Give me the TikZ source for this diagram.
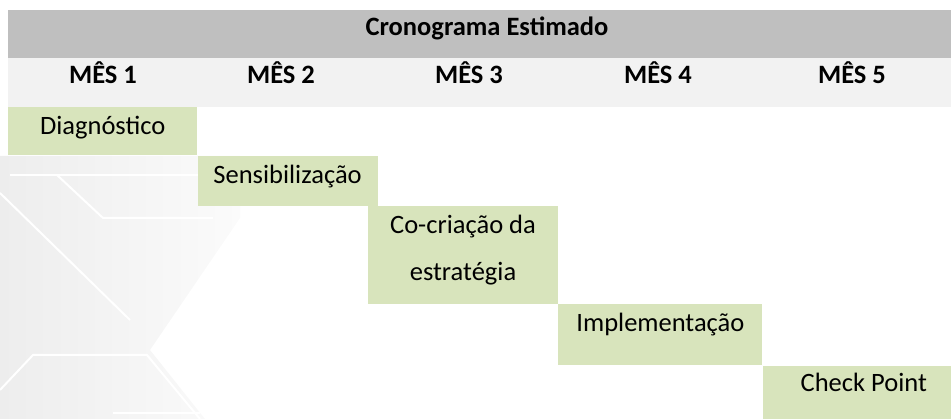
\documentclass[tikz,border=0pt]{standalone}
\usepackage{fontspec}
\setmainfont{Carlito}
\usetikzlibrary{positioning}
\definecolor{headgray}{HTML}{BFBFBF}
\definecolor{monthgray}{HTML}{F2F2F2}
\definecolor{taskgreen}{HTML}{D8E4BC}
\definecolor{wmgray}{HTML}{EDEDED}
\definecolor{wmfade}{HTML}{FBFBFB}
\tikzstyle{cell} = [rectangle, inner xsep=0pt, inner ysep=0pt, align=center, font=\fontsize{26.5}{47}\selectfont]
\tikzstyle{boldcell} = [cell, font=\fontsize{26.5}{47}\selectfont\bfseries]
\tikzstyle{band} = [rectangle, inner sep=0pt, anchor=north west, minimum width=943pt]
\tikzstyle{task} = [cell, fill=taskgreen, anchor=north west]
\tikzstyle{wmline} = [white, line width=2pt]

\begin{document}
\begin{tikzpicture}[x=1pt, y=-1pt]
    \useasboundingbox (0,0) rectangle (951,419);

    % Watermark.
    \shade [left color=wmgray, right color=wmfade] (0,156) -- (240,156) -- (240,218) -- (150,350) -- (205,419) -- (0,419) -- cycle;
    \draw [wmline] (10,175) -- (230,175);
    \draw [wmline] (57,175) -- (103,218) -- (213,218);
    \draw [wmline] (0,193) -- (130,320);
    \draw [wmline] (0,390) -- (33,355) -- (147,355) -- (200,419);
    \draw [wmline] (113,413) -- (200,413);

    % Header.
    \node (header) [band, fill=headgray, minimum height=48pt] at (8,10) {};
    \node (months) [band, fill=monthgray, minimum height=49pt] at (8,58) {};
    \node (title) [boldcell, anchor=base] at (487,36) {Cronograma Estimado};

    % Months.
    \foreach \m/\x in {1/103, 2/281, 3/469, 4/658, 5/852} {%
        \node (month \m) [boldcell, anchor=base] at (\x,84) {MÊS \m};
    }

    % Tasks.
    \node (task 1) [task, minimum width=189pt, text height=27pt, text depth=21pt] at (8,107) {Diagnóstico};
    \node (task 2) [task, minimum width=180pt, text height=28pt, text depth=22pt, below right=0pt and 0pt of task 1] {Sensibilização};
    \node (task 3) [task, minimum width=190pt, text height=75pt, text depth=23pt, below right=0pt and -10pt of task 2] {Co-criação da\\estratégia};
    \node (task 4) [task, minimum width=204pt, text height=27pt, text depth=34pt, below right=0pt and 0pt of task 3] {Implementação};
    \node (task 5) [task, minimum width=190pt, text height=26pt, text depth=29pt, below right=0pt and 0pt of task 4] {\hspace*{12pt}Check Point};
\end{tikzpicture}
\end{document}
